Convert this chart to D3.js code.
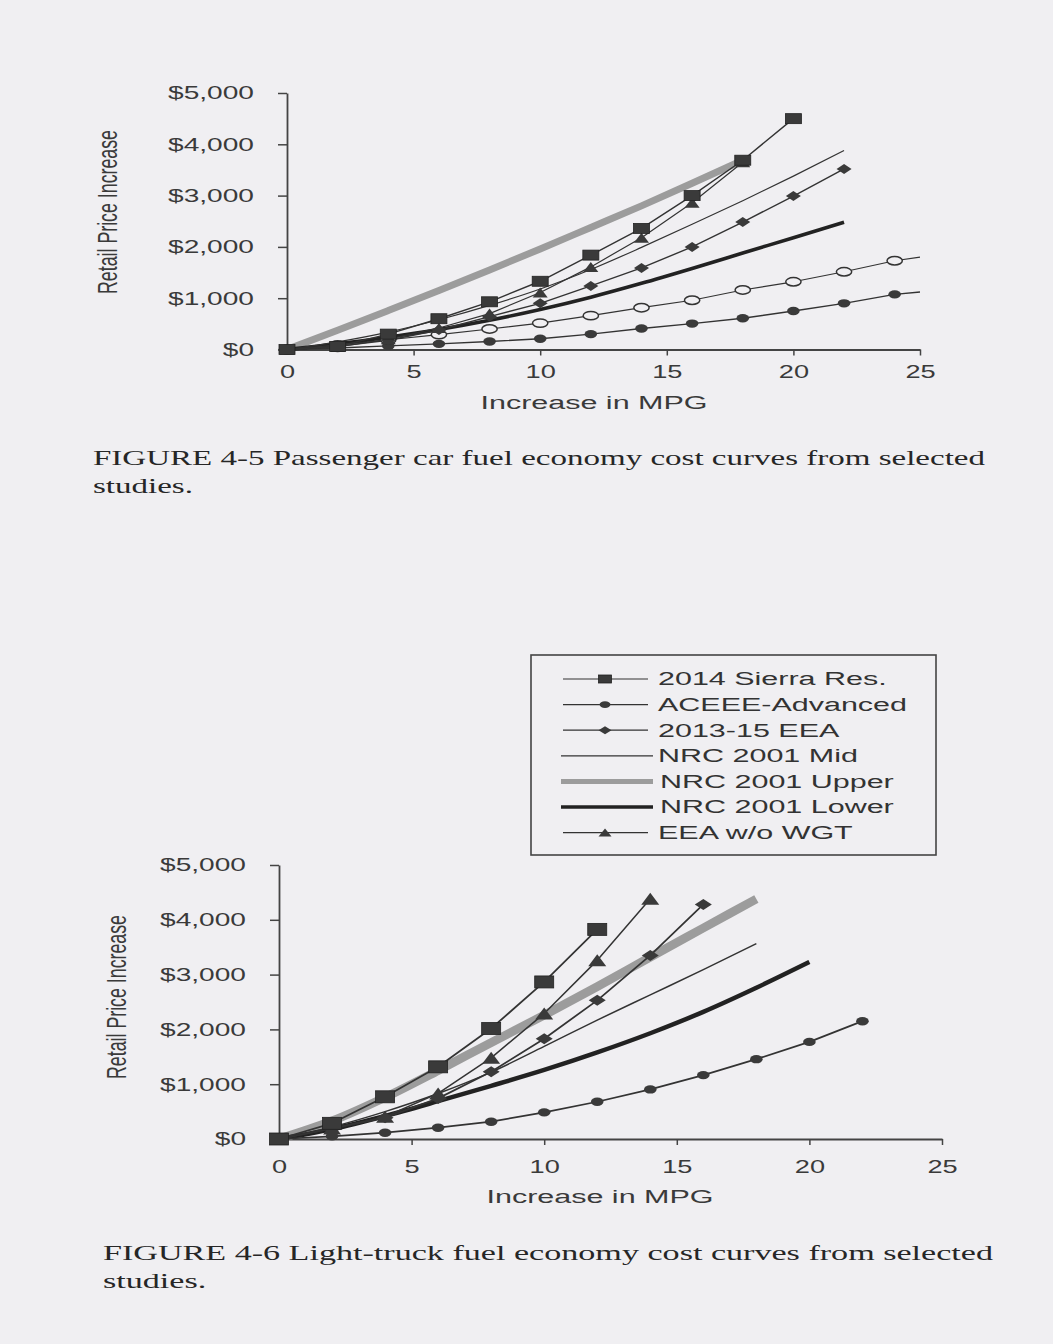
<!DOCTYPE html>
<html>
<head>
<meta charset="utf-8">
<script src="https://cdn.jsdelivr.net/npm/d3@7"></script>
<style>
  body { margin: 0; background: #f0eff2; }
  svg { display: block; }
  text { font-family: "Liberation Sans", Arial, sans-serif; }
  text.caption { font-family: "Liberation Serif", "Times New Roman", serif; }
</style>
</head>
<body>
<svg id="page" width="1053" height="1344"></svg>
<script>
// MPG steps shared by every series (value i sits at mpg[i])
var mpg = [0, 2, 4, 6, 8, 10, 12, 14, 16, 18, 20, 22, 24];
var yTicks = [0, 1000, 2000, 3000, 4000, 5000];
var xTicks = [0, 5, 10, 15, 20, 25];

// FIGURE 4-5 passenger cars
var carSierra = [0, 60, 300, 600, 930, 1330, 1840, 2360, 3000, 3690, 4500];
var carAceee  = [0, 30, 70, 110, 155, 210, 300, 410, 505, 610, 750, 900, 1075];
var carAceeeEnd = [25, 1120];
var carOpen   = [0, 90, 190, 290, 400, 515, 660, 815, 960, 1160, 1320, 1515, 1730];
var carOpenEnd = [25, 1800];
var carEea    = [0, 60, 180, 380, 640, 900, 1240, 1590, 2000, 2485, 2990, 3520];
var carMid    = [0, 150, 340, 580, 860, 1180, 1560, 1990, 2440, 2900, 3380, 3880];
var carUpper  = [0, 375, 760, 1150, 1550, 1960, 2380, 2800, 3240, 3690];
var carLower  = [0, 110, 240, 390, 570, 780, 1020, 1290, 1580, 1880, 2180, 2480];
var carWgt    = [0, 50, 200, 420, 700, 1110, 1610, 2180, 2860, 3650];

// FIGURE 4-6 light trucks
var truckSierra = [0, 286, 770, 1317, 2016, 2866, 3825];
var truckAceee  = [0, 50, 115, 206, 316, 486, 680, 905, 1166, 1457, 1772, 2150];
var truckEea    = [0, 190, 390, 741, 1226, 1830, 2530, 3350, 4280];
var truckMid    = [0, 220, 500, 830, 1220, 1690, 2170, 2630, 3090, 3565];
var truckUpper  = [0, 330, 760, 1250, 1760, 2260, 2780, 3320, 3850, 4380];
var truckLower  = [0, 180, 420, 690, 970, 1260, 1580, 1930, 2320, 2760, 3230];
var truckWgt    = [0, 190, 406, 832, 1481, 2290, 3260, 4384];

var legendNames = ["2014 Sierra Res.", "ACEEE-Advanced", "2013-15 EEA", "NRC 2001 Mid",
                   "NRC 2001 Upper", "NRC 2001 Lower", "EEA w/o WGT"];

var captions = {
  car: ["FIGURE 4-5  Passenger car fuel economy cost curves from selected", "studies."],
  truck: ["FIGURE 4-6  Light-truck fuel economy cost curves from selected", "studies."]
};

var ink = "#333";
var bg = "#f0eff2";

// line styles, keyed by legend order
var styles = {
  sierra: {marker: "square", width: 1.4},
  aceee:  {marker: "circle", width: 1.4},
  eea:    {marker: "diamond", width: 1.4},
  mid:    {marker: null, width: 1.2},
  upper:  {marker: null, width: 7, color: "#9c9c9c"},
  lower:  {marker: null, width: 3.6, color: "#222"},
  wgt:    {marker: "triangle", width: 1.2},
  open:   {marker: "open", width: 1.2}
};

var svg = d3.select("#page");
svg.append("rect").attr("width", 1053).attr("height", 1344).attr("fill", bg);

// stretch text horizontally, the scan is wide
function stretch(sel, k) {
  sel.each(function() {
    var w = this.getComputedTextLength();
    d3.select(this).attr("textLength", w * k).attr("lengthAdjust", "spacingAndGlyphs");
  });
}
function fitTo(sel, target) {
  var w = sel.node().getComputedTextLength();
  return target / w;
}

function marker(g, type, cx, cy, w, h) {
  if (type == "square") {
    g.append("rect").attr("x", cx - w / 2).attr("y", cy - h / 2)
      .attr("width", w).attr("height", h).attr("fill", "#3a3a3a").attr("stroke", "#222").attr("stroke-width", 0.8);
  } else if (type == "circle") {
    g.append("ellipse").attr("cx", cx).attr("cy", cy).attr("rx", w * 0.42).attr("ry", h * 0.42)
      .attr("fill", "#3a3a3a");
  } else if (type == "open") {
    g.append("ellipse").attr("cx", cx).attr("cy", cy).attr("rx", w * 0.45).attr("ry", h * 0.42)
      .attr("fill", bg).attr("stroke", ink).attr("stroke-width", 1.5);
  } else if (type == "diamond") {
    g.append("path").attr("d", "M" + (cx - w / 2) + "," + cy + "L" + cx + "," + (cy - h / 2) +
      "L" + (cx + w / 2) + "," + cy + "L" + cx + "," + (cy + h / 2) + "Z").attr("fill", "#3a3a3a");
  } else if (type == "triangle") {
    g.append("path").attr("d", "M" + (cx - w / 2) + "," + (cy + h / 2) + "L" + cx + "," + (cy - h / 2) +
      "L" + (cx + w / 2) + "," + (cy + h / 2) + "Z").attr("fill", "#3a3a3a");
  }
}

function pairs(vals, end) {
  var pts = vals.map(function(v, i) { return [mpg[i], v]; });
  if (end) pts.push(end);
  return pts;
}

var drawChart = function(cfg) {
  var x = d3.scaleLinear().domain([0, 25]).range([cfg.left, cfg.right]);
  var y = d3.scaleLinear().domain([0, 5000]).range([cfg.bottom, cfg.top]);
  var g = svg.append("g");

  var yAxis = d3.axisLeft(y).tickValues(yTicks).tickSize(9).tickSizeOuter(0).tickPadding(24)
    .tickFormat(function(d) { return "$" + d3.format(",")(d); });
  var xAxis = d3.axisBottom(x).tickValues(xTicks).tickSize(6).tickSizeOuter(0).tickPadding(cfg.xPad);

  var ya = g.append("g").attr("transform", "translate(" + cfg.left + ",0)").call(yAxis);
  var xa = g.append("g").attr("transform", "translate(0," + cfg.bottom + ")").call(xAxis);
  [ya, xa].forEach(function(a) {
    a.select(".domain").attr("stroke", "#444").attr("stroke-width", 1.8);
    a.selectAll(".tick line").attr("stroke", "#444").attr("stroke-width", 1.5);
    a.selectAll(".tick text").attr("font-size", 18.5).attr("fill", "#3a3a3a")
      .style("font-family", "'Liberation Sans', Arial, sans-serif");
  });
  xa.selectAll(".tick").filter(function(d) { return d == 0; }).select("line").remove();
  stretch(ya.selectAll(".tick text"), 1.52);
  stretch(xa.selectAll(".tick text"), 1.47);

  // axis titles
  var xt = g.append("text").attr("x", cfg.xTitle[0]).attr("y", cfg.xTitle[1])
    .attr("text-anchor", "middle").attr("dy", "0.35em").attr("font-size", 18).attr("fill", "#3a3a3a")
    .text("Increase in MPG");
  xt.attr("textLength", 227).attr("lengthAdjust", "spacingAndGlyphs");

  g.append("text")
    .attr("transform", "translate(" + cfg.yTitle[0] + "," + cfg.yTitle[1] + ") rotate(-90) scale(1,1.85)")
    .attr("text-anchor", "middle").attr("dy", "0.35em").attr("font-size", 14.5).attr("fill", "#3a3a3a")
    .attr("textLength", 164).attr("lengthAdjust", "spacingAndGlyphs")
    .text("Retail Price Increase");

  var line = d3.line().x(function(d) { return x(d[0]); }).y(function(d) { return y(d[1]); });
  var smooth = d3.line().curve(d3.curveMonotoneX).x(function(d) { return x(d[0]); }).y(function(d) { return y(d[1]); });

  cfg.series.forEach(function(s) {
    var st = styles[s.key];
    var pts = pairs(s.values, s.end);
    g.append("path").datum(pts)
      .attr("d", st.marker ? line : smooth)
      .attr("fill", "none")
      .attr("stroke", st.color || ink)
      .attr("stroke-width", st.width * (cfg.lineScale || 1))
      .attr("stroke-linejoin", "round")
      .attr("stroke-linecap", "butt");
  });
  // markers on top of all lines
  cfg.series.forEach(function(s) {
    var st = styles[s.key];
    if (!st.marker) return;
    var mg = g.append("g");
    s.values.forEach(function(v, i) {
      var sz = cfg.markerSize[st.marker];
      marker(mg, st.marker, x(mpg[i]), y(v), sz[0], sz[1]);
    });
  });

  // caption
  var c1 = svg.append("text").attr("class", "caption").attr("x", cfg.capX).attr("y", cfg.capY)
    .attr("font-size", 21.5).attr("fill", "#262626").text(cfg.caption[0]);
  var k = fitTo(c1, cfg.capW);
  stretch(c1, k);
  var c2 = svg.append("text").attr("class", "caption").attr("x", cfg.capX).attr("y", cfg.capY + 28)
    .attr("font-size", 21.5).attr("fill", "#262626").text(cfg.caption[1]);
  stretch(c2, k);
};

drawChart({
  left: 287, right: 920, top: 93, bottom: 349.5, xPad: 9,
  xTitle: [594, 403], yTitle: [108, 212],
  capX: 93, capY: 465, capW: 892, caption: captions.car,
  markerSize: {square: [16, 10], circle: [15, 10], open: [17, 10], diamond: [15, 10], triangle: [15, 10]},
  series: [
    {key: "upper", values: carUpper},
    {key: "lower", values: carLower},
    {key: "mid", values: carMid},
    {key: "aceee", values: carAceee, end: carAceeeEnd},
    {key: "open", values: carOpen, end: carOpenEnd},
    {key: "eea", values: carEea},
    {key: "wgt", values: carWgt},
    {key: "sierra", values: carSierra}
  ]
});

drawChart({
  left: 279, right: 942, top: 865, bottom: 1139, xPad: 15,
  xTitle: [600, 1197], yTitle: [117, 997],
  capX: 103, capY: 1260, capW: 890, caption: captions.truck,
  lineScale: 1.25,
  markerSize: {square: [19, 12], circle: [15, 10], open: [17, 10], diamond: [17, 11], triangle: [18, 12]},
  series: [
    {key: "upper", values: truckUpper},
    {key: "lower", values: truckLower},
    {key: "mid", values: truckMid},
    {key: "aceee", values: truckAceee},
    {key: "eea", values: truckEea},
    {key: "wgt", values: truckWgt},
    {key: "sierra", values: truckSierra}
  ]
});

// shared legend
var legendKeys = ["sierra", "aceee", "eea", "mid", "upper", "lower", "wgt"];
var legend = svg.append("g").classed("legend", true);
legend.append("rect").attr("x", 531).attr("y", 655).attr("width", 405).attr("height", 200)
  .attr("fill", "none").attr("stroke", "#444").attr("stroke-width", 1.6);

var rows = legend.selectAll("g.row").data(legendKeys).enter().append("g")
  .attr("class", "row")
  .attr("transform", function(d, i) { return "translate(0," + (679 + i * 25.6) + ")"; });

rows.append("line")
  .attr("x1", function(d) { return styles[d].marker ? 563 : 561; })
  .attr("x2", function(d) { return styles[d].marker ? 648 : 653; })
  .attr("stroke", function(d) { return styles[d].color || ink; })
  .attr("stroke-width", function(d) { return d == "upper" ? 5 : (d == "lower" ? 3.6 : 1.2); });
rows.each(function(d) {
  var st = styles[d];
  if (st.marker) marker(d3.select(this), st.marker, 605, 0, 13, 8);
});
var ltext = rows.append("text").attr("x", function(d) { return styles[d].marker || d == "mid" ? 658 : 660; })
  .attr("dy", "0.36em").attr("font-size", 18).attr("fill", "#333")
  .text(function(d, i) { return legendNames[i]; });
var lk = fitTo(ltext.filter(function(d) { return d == "aceee"; }), 249);
stretch(ltext, lk);
</script>
</body>
</html>
